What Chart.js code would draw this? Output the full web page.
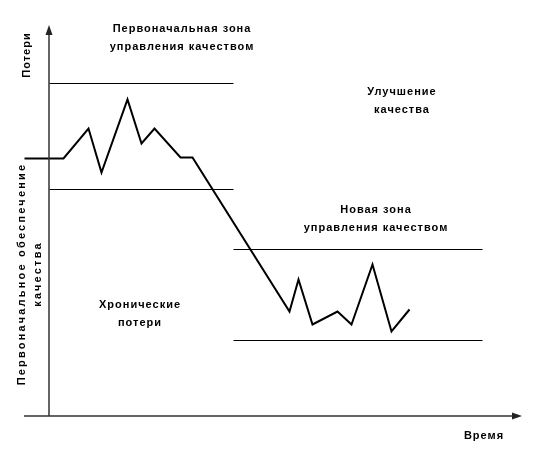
<!DOCTYPE html>
<html>
<head>
<meta charset="utf-8">
<script src="https://cdn.jsdelivr.net/npm/chart.js@4"></script>
<style>
html,body{margin:0;padding:0;background:#fff;}
#wrap{width:534px;height:454px;}
</style>
</head>
<body>
<div id="wrap"><canvas id="c" width="534" height="454"></canvas></div>
<script>
// Time (x) and loss (y) values, origin at the axes intersection
const lossTime   = [-25, 14, 39, 52, 78, 92, 105, 131, 143, 240, 249, 263, 288, 302, 323, 342, 360];
const lossValues = [258, 258, 288, 244, 317, 273, 288, 259, 259, 105, 137, 92, 105, 92, 152, 85, 107];

const initialZoneTime  = [0, 184];
const initialZoneUpper = [333, 333];
const initialZoneLower = [227, 227];

const newZoneTime  = [184, 433];
const newZoneUpper = [167, 167];
const newZoneLower = [76, 76];

const xAxisExtent = [-25, 473];
const yAxisExtent = [0, 391];

const labels = [
  {lines:['Первоначальная зона','управления качеством'], x:133, y:[387,369], rot:0},
  {lines:['Улучшение','качества'], x:353, y:[324,306], rot:0},
  {lines:['Новая зона','управления качеством'], x:327, y:[206,188], rot:0},
  {lines:['Хронические','потери'], x:91, y:[111,93], rot:0},
  {lines:['Время'], x:435, y:[-20], rot:0},
  {lines:['Потери'], x:-22, y:[361], rot:-1},
  {lines:['Первоначальное обеспечение'], x:-27, y:[142], rot:-1, spacing:2.2},
  {lines:['качества'], x:-11, y:[142], rot:-1, spacing:2.2}
];

function pts(xs, ys){ return xs.map((x,i)=>({x:x, y:ys[i]})); }

const crisp = {
  id:'crisp',
  beforeDatasetsDraw(chart){ chart.ctx.save(); chart.ctx.translate(0.5, 0.5); },
  afterDatasetsDraw(chart){ chart.ctx.restore(); }
};

const overlay = {
  id:'overlay',
  afterDatasetsDraw(chart){
    const ctx = chart.ctx, xs = chart.scales.x, ys = chart.scales.y;
    ctx.save();
    ctx.strokeStyle = '#333';
    ctx.fillStyle = '#222';
    ctx.lineWidth = 1.5;
    const ox = xs.getPixelForValue(0), oy = ys.getPixelForValue(0);
    const xr = xs.getPixelForValue(xAxisExtent[1]), xl = xs.getPixelForValue(xAxisExtent[0]);
    const yt = ys.getPixelForValue(yAxisExtent[1]);
    ctx.beginPath();
    ctx.moveTo(xl, oy); ctx.lineTo(xr - 8, oy);
    ctx.moveTo(ox, oy); ctx.lineTo(ox, yt + 8);
    ctx.stroke();
    ctx.beginPath();
    ctx.moveTo(xr, oy); ctx.lineTo(xr - 10, oy - 3.5); ctx.lineTo(xr - 10, oy + 3.5); ctx.closePath();
    ctx.fill();
    ctx.beginPath();
    ctx.moveTo(ox, yt); ctx.lineTo(ox - 3.5, yt + 10); ctx.lineTo(ox + 3.5, yt + 10); ctx.closePath();
    ctx.fill();
    ctx.fillStyle = '#000';
    ctx.font = 'bold 11px "Liberation Sans", Arial, sans-serif';
    ctx.textAlign = 'center';
    ctx.textBaseline = 'middle';
    labels.forEach(l=>{
      ctx.letterSpacing = (l.spacing || 1) + 'px';
      l.lines.forEach((t,i)=>{
        const px = xs.getPixelForValue(l.x), py = ys.getPixelForValue(l.y[i]);
        ctx.save();
        ctx.translate(px, py);
        if (l.rot) ctx.rotate(-Math.PI/2);
        ctx.fillText(t, 0, 0);
        ctx.restore();
      });
    });
    ctx.restore();
  }
};

new Chart(document.getElementById('c'), {
  type:'line',
  data:{
    datasets:[
      {data:pts(lossTime, lossValues), borderColor:'#000', borderWidth:2},
      {data:pts(initialZoneTime, initialZoneUpper), borderColor:'#000', borderWidth:1},
      {data:pts(initialZoneTime, initialZoneLower), borderColor:'#000', borderWidth:1},
      {data:pts(newZoneTime, newZoneUpper), borderColor:'#000', borderWidth:1},
      {data:pts(newZoneTime, newZoneLower), borderColor:'#000', borderWidth:1}
    ]
  },
  options:{
    responsive:false,
    animation:false,
    layout:{padding:0},
    elements:{point:{radius:0}, line:{tension:0, borderJoinStyle:'miter'}},
    plugins:{legend:{display:false}, tooltip:{enabled:false}},
    scales:{
      x:{type:'linear', min:-49, max:485, display:false},
      y:{type:'linear', min:-38, max:416, display:false}
    }
  },
  plugins:[crisp, overlay]
});
</script>
</body>
</html>
